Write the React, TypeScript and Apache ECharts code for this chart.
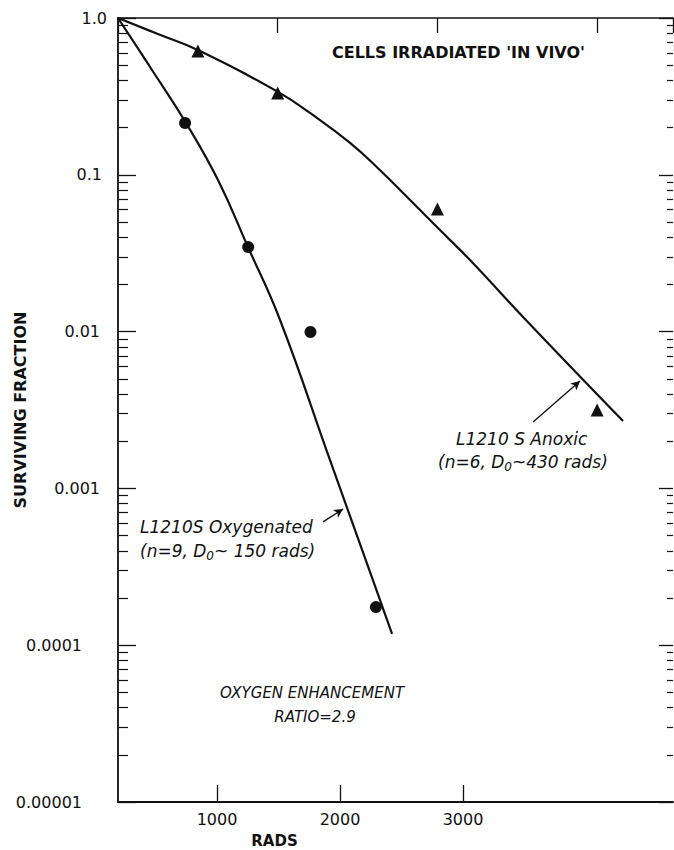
import React, { useEffect, useRef } from "react";
import * as echarts from "echarts";

// Anoxic (triangles) — measured points and fitted curve
const anoxicDose = [500, 1000, 2000, 3000];
const anoxicSF = [0.616, 0.332, 0.0605, 0.00316];
const anoxicCurveDose = [0, 250, 513, 1014, 1202, 1453, 1641, 1810, 1997, 2204, 2536, 3162];
const anoxicCurveSF = [1, 0.79, 0.616, 0.332, 0.248, 0.16, 0.107, 0.0722, 0.0464, 0.0286, 0.0124, 0.00269];

// Oxygenated (circles) — measured points and fitted curve
const oxyDose = [420, 815, 1205, 1615];
const oxySF = [0.214, 0.0346, 0.00994, 0.000175];
const oxyCurveDose = [0, 213, 426, 626, 814, 1014, 1327, 1647, 1716];
const oxyCurveSF = [1, 0.466, 0.214, 0.0926, 0.0346, 0.0119, 0.00152, 0.000186, 0.000118];

// Annotation arrows (data coords)
const anoxicArrow = [[2599, 0.00265], [2893, 0.00484]];
const oxyArrow = [[1284, 0.000611], [1409, 0.000739]];

// Tick labels
const yTickLabels = ["0.00001", "0.0001", "0.001", "0.01", "0.1", "1.0"];
const yLabelStyle = ["p3", "p3", "p2", "p2", "p1", "p0"];
const bottomTickValues = [1000, 2000, 3000];
const bottomTickLabels = ["1000", "2000", "3000"];
const minorMultipliers = [2, 3, 4, 5, 6, 7, 8, 9];
const decadeExponents = [-5, -4, -3, -2, -1];

const FONT = "'DejaVu Sans', 'Liberation Sans', sans-serif";

export default function App() {
  const ref = useRef<HTMLDivElement>(null);
  useEffect(() => {
    document.body.style.margin = "0";
    if (!ref.current) return;
    const chart = echarts.init(ref.current, null, { renderer: "svg" });

    const minorLog: number[] = [];
    decadeExponents.forEach((e) => minorMultipliers.forEach((m) => minorLog.push(e + Math.log10(m))));

    const pair = (xs: number[], ys: number[]) => xs.map((x, i) => [x, ys[i]]);
    const black = "#111";

    const italic = (size: number) => `italic ${size}px ${FONT}`;
    const subRich = {
      sub: { fontSize: 12, fontStyle: "italic", fontFamily: FONT, fill: black, color: black, padding: [9, 0, 0, 0] },
    };

    const textEl = (x: number, y: number, text: string, font: string, rich?: any) => ({
      type: "text",
      x,
      y,
      silent: true,
      style: {
        text,
        font,
        fill: black,
        align: "left",
        verticalAlign: "middle",
        textAlign: "left",
        textVerticalAlign: "middle",
        rich,
      },
    });
    const centerText = (x: number, y: number, text: string, font: string) => ({
      type: "text",
      x,
      y,
      silent: true,
      style: {
        text,
        font,
        fill: black,
        align: "center",
        verticalAlign: "middle",
        textAlign: "center",
        textVerticalAlign: "middle",
      },
    });

    const arrowLine = (pts: number[][]) => ({
      silent: true,
      symbol: ["none", "arrow"],
      symbolSize: [7, 9],
      label: { show: false },
      lineStyle: { color: black, width: 1.4, type: "solid", opacity: 1 },
      data: [[{ coord: pts[0] }, { coord: pts[1] }]],
    });

    const option: any = {
      animation: false,
      backgroundColor: "#fff",
      grid: { left: 118, right: 1, top: 18, bottom: 48, containLabel: false, outerBoundsMode: "none" },
      xAxis: [
        {
          type: "value",
          position: "top",
          min: 0,
          max: 3475,
          interval: 1000,
          axisLine: { show: true, onZero: false, lineStyle: { color: black, width: 1.5 } },
          axisTick: { show: true, inside: true, length: 15, lineStyle: { color: black, width: 1.3 } },
          axisLabel: { show: false },
          splitLine: { show: false },
        },
        {
          type: "value",
          position: "bottom",
          min: 195,
          max: 4707,
          axisLine: { show: true, onZero: false, lineStyle: { color: black, width: 1.8 } },
          axisTick: {
            show: true,
            inside: true,
            length: 17,
            customValues: bottomTickValues,
            lineStyle: { color: black, width: 1.3 },
          },
          axisLabel: {
            show: true,
            customValues: bottomTickValues,
            formatter: (v: number) => bottomTickLabels[bottomTickValues.indexOf(Math.round(v))] ?? "",
            color: black,
            fontFamily: FONT,
            fontSize: 16,
            margin: 9,
          },
          splitLine: { show: false },
          name: "RADS",
          nameLocation: "middle",
          nameGap: 31,
          nameMoveOverlap: false,
          nameTextStyle: {
            color: black,
            fontFamily: FONT,
            fontSize: 15,
            fontWeight: "bold",
            padding: [0, 242, 0, 0],
          },
        },
      ],
      yAxis: [
        {
          type: "log",
          logBase: 10,
          min: 0.00001,
          max: 1,
          position: "left",
          axisLine: { show: true, onZero: false, lineStyle: { color: black, width: 1.8 } },
          axisTick: { show: true, inside: true, length: 18, lineStyle: { color: black, width: 1.3 } },
          axisLabel: {
            show: true,
            margin: 11,
            formatter: (v: number) => {
              const i = Math.round(Math.log10(v)) + 5;
              return `{${yLabelStyle[i]}|${yTickLabels[i]}}`;
            },
            rich: {
              p0: { fontFamily: FONT, fontSize: 16, color: black, padding: [0, 0, 0, 0] },
              p1: { fontFamily: FONT, fontSize: 16, color: black, padding: [0, 5, 0, 0] },
              p2: { fontFamily: FONT, fontSize: 16, color: black, padding: [0, 7, 0, 0] },
              p3: { fontFamily: FONT, fontSize: 16, color: black, padding: [0, 25, 0, 0] },
            },
          },
          splitLine: { show: false },
          minorTick: { show: false },
          name: "SURVIVING FRACTION",
          nameLocation: "middle",
          nameGap: 90,
          nameMoveOverlap: false,
          nameTextStyle: { color: black, fontFamily: FONT, fontSize: 16, fontWeight: "bold" },
        },
        {
          type: "log",
          logBase: 10,
          min: 0.00001,
          max: 1,
          position: "right",
          axisLine: { show: false, onZero: false },
          axisTick: { show: true, inside: true, length: 14, lineStyle: { color: black, width: 1.3 } },
          axisLabel: { show: false },
          splitLine: { show: false },
        },
        {
          type: "value",
          min: -5,
          max: 0,
          position: "left",
          axisLine: { show: false, onZero: false },
          axisTick: {
            show: true,
            inside: true,
            length: 10,
            customValues: minorLog,
            lineStyle: { color: black, width: 1.2 },
          },
          axisLabel: { show: false },
          splitLine: { show: false },
        },
        {
          type: "value",
          min: -5,
          max: 0,
          position: "right",
          axisLine: { show: false, onZero: false },
          axisTick: {
            show: true,
            inside: true,
            length: 6,
            customValues: minorLog,
            lineStyle: { color: black, width: 1.2 },
          },
          axisLabel: { show: false },
          splitLine: { show: false },
        },
      ],
      series: [
        {
          name: "Anoxic curve",
          type: "line",
          xAxisIndex: 0,
          yAxisIndex: 0,
          data: pair(anoxicCurveDose, anoxicCurveSF),
          smooth: 0.45,
          showSymbol: false,
          symbol: "none",
          lineStyle: { color: black, width: 2.2 },
          silent: true,
          markLine: arrowLine(anoxicArrow),
        },
        {
          name: "Oxygenated curve",
          type: "line",
          xAxisIndex: 0,
          yAxisIndex: 0,
          data: pair(oxyCurveDose, oxyCurveSF),
          smooth: 0.45,
          showSymbol: false,
          symbol: "none",
          lineStyle: { color: black, width: 2.2 },
          silent: true,
          markLine: arrowLine(oxyArrow),
        },
        {
          name: "Anoxic",
          type: "scatter",
          xAxisIndex: 0,
          yAxisIndex: 0,
          symbol: "triangle",
          symbolSize: 13,
          itemStyle: { color: black, opacity: 1 },
          data: pair(anoxicDose, anoxicSF),
          silent: true,
        },
        {
          name: "Oxygenated",
          type: "scatter",
          xAxisIndex: 0,
          yAxisIndex: 0,
          symbol: "circle",
          symbolSize: 12,
          itemStyle: { color: black, opacity: 1 },
          data: pair(oxyDose, oxySF),
          silent: true,
        },
      ],
      graphic: [
        textEl(332, 52, "CELLS IRRADIATED 'IN VIVO'", `bold 16px ${FONT}`),
        textEl(456, 439, "L1210 S Anoxic", italic(17)),
        textEl(438, 462, "(n=6, D{sub|0}~430 rads)", italic(17), subRich),
        textEl(140, 527, "L1210S Oxygenated", italic(17)),
        textEl(140, 551, "(n=9, D{sub|0}~ 150 rads)", italic(17), subRich),
        centerText(312, 693, "OXYGEN ENHANCEMENT", italic(15)),
        centerText(315, 717, "RATIO=2.9", italic(15)),
      ],
    };

    chart.setOption(option);
    return () => chart.dispose();
  }, []);

  return <div ref={ref} style={{ width: 674, height: 850 }} />;
}
